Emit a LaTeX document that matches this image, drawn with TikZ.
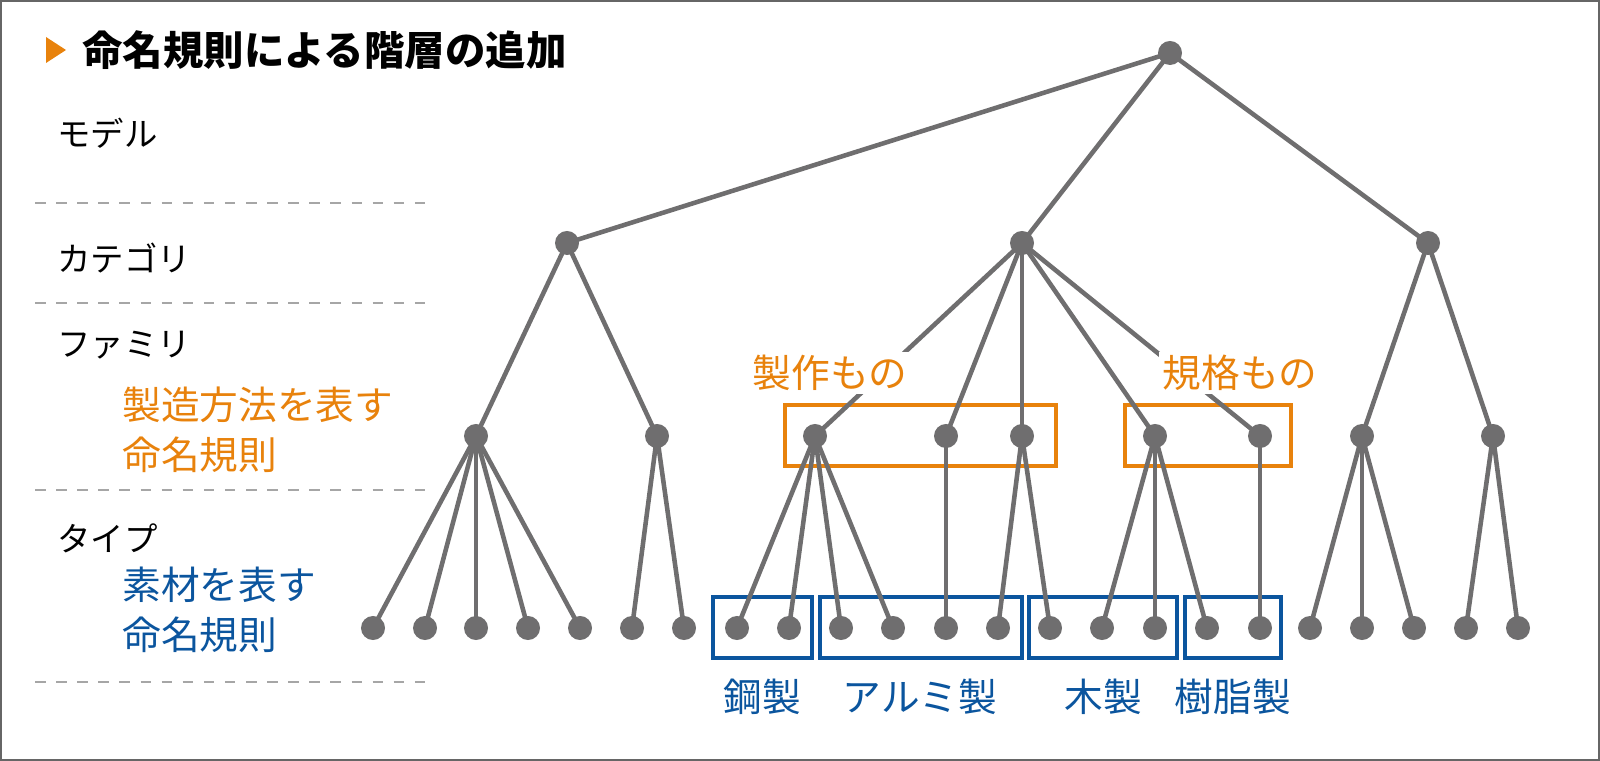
\documentclass[tikz,border=0pt]{standalone}
\usepackage{fontspec}
\setmainfont{Noto Sans CJK JP}
\definecolor{treegray}{HTML}{6F6E6F}
\definecolor{famorange}{HTML}{E8820C}
\definecolor{typeblue}{HTML}{0B559E}
\usetikzlibrary{positioning}

\begin{document}
\begin{tikzpicture}[x=0.01cm,y=-0.01cm,
    dot/.style={circle,fill=treegray,inner sep=0pt,minimum size=0.24cm},
    branch/.style={draw=treegray,line width=1.3pt},
    famgroup/.style={draw=famorange,line width=0.9pt},
    typegroup/.style={draw=typeblue,line width=0.9pt},
    level/.style={anchor=west,font=\fontsize{9.5}{11}\selectfont},
    sep/.style={draw=gray!70,dashed,line width=0.5pt},
    tag/.style={font=\fontsize{11}{13}\selectfont,fill=white,inner sep=1pt}]
  \useasboundingbox (0,0) rectangle (1600,761);
  \draw[gray!80!black,line width=0.6pt] (1,1) rectangle (1599,760);
  % title
  \fill[famorange] (46,37) -- (66,50) -- (46,63) -- cycle;
  \node[anchor=west,font=\bfseries\fontsize{11.5}{13}\selectfont] (title) at (70,50) {命名規則による階層の追加};
  % level labels
  \node[level] (lmodel) at (45,133) {モデル};
  \node[level] (lcat) at (45,258) {カテゴリ};
  \node[level] (lfam) at (45,345) {ファミリ};
  \node[level,text=famorange,font=\fontsize{11}{13}\selectfont] (lfam1) at (110,405) {製造方法を表す};
  \node[level,text=famorange,font=\fontsize{11}{13}\selectfont] (lfam2) at (110,455) {命名規則};
  \node[level] (ltype) at (45,538) {タイプ};
  \node[level,text=typeblue,font=\fontsize{11}{13}\selectfont] (ltype1) at (110,585) {素材を表す};
  \node[level,text=typeblue,font=\fontsize{11}{13}\selectfont] (ltype2) at (110,635) {命名規則};
  \foreach \y in {203,303,490,682}
    \draw[sep] (35,\y) -- (425,\y);
  % groups
  \draw[famgroup] (785,405) rectangle (1056,466);
  \draw[famgroup] (1125,405) rectangle (1291,466);
  \draw[typegroup] (713,597) rectangle (812,658);
  \draw[typegroup] (820,597) rectangle (1022,658);
  \draw[typegroup] (1029,597) rectangle (1177,658);
  \draw[typegroup] (1185,597) rectangle (1281,658);
  % nodes
  \node[dot] (r) at (1170,53) {};
  \node[dot] (c1) at (567,243) {};
  \node[dot] (c2) at (1022,243) {};
  \node[dot] (c3) at (1428,243) {};
  \foreach \i/\x in {1/476,2/657,3/815,4/946,5/1022,6/1155,7/1260,8/1362,9/1493}
    \node[dot] (f\i) at (\x,436) {};
  \foreach \i/\x in {1/373,2/425,3/476,4/528,5/580,6/632,7/684,8/737,9/789,10/841,11/893,12/946,
      13/998,14/1050,15/1102,16/1155,17/1207,18/1260,19/1310,20/1362,21/1414,22/1466,23/1518}
    \node[dot] (t\i) at (\x,628) {};
  % edges
  \foreach \a/\b in {r/c1,r/c2,r/c3,c1/f1,c1/f2,c2/f3,c2/f4,c2/f5,c2/f6,c2/f7,c3/f8,c3/f9,
      f1/t1,f1/t2,f1/t3,f1/t4,f1/t5,f2/t6,f2/t7,f3/t8,f3/t9,f3/t10,f3/t11,f4/t12,f5/t13,f5/t14,
      f6/t15,f6/t16,f6/t17,f7/t18,f8/t19,f8/t20,f8/t21,f9/t22,f9/t23}
    \draw[branch] (\a.center) -- (\b.center);
  % group labels
  \node[tag,text=famorange] (made) at (830,373) {製作もの};
  \node[tag,text=famorange] (std) at (1240,373) {規格もの};
  \node[tag,text=typeblue] (steel) at (762,697) {鋼製};
  \node[tag,text=typeblue] (alu) at (920,697) {アルミ製};
  \node[tag,text=typeblue] (wood) at (1103,697) {木製};
  \node[tag,text=typeblue] (resin) at (1233,697) {樹脂製};
\end{tikzpicture}
\end{document}
